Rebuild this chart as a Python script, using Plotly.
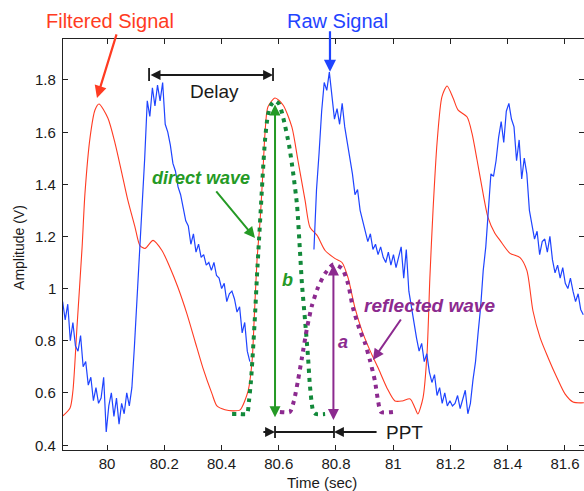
import numpy as np
import plotly.graph_objects as go

# ---------------- data ----------------
# Filtered (low-pass) signal, time in seconds / amplitude in volts
FILT_T = [79.846, 79.871, 79.881, 79.895, 79.913, 79.923, 79.941, 79.958, 79.972, 80.003,
          80.028, 80.052, 80.073, 80.098, 80.115, 80.133, 80.161, 80.192, 80.220, 80.248,
          80.279, 80.307, 80.335, 80.367, 80.384, 80.412, 80.440, 80.465, 80.493, 80.507,
          80.514, 80.524, 80.535, 80.545, 80.552, 80.562, 80.587, 80.615, 80.646, 80.667,
          80.692, 80.709, 80.734, 80.762, 80.797, 80.821, 80.842, 80.866, 80.891, 80.919,
          80.947, 80.978, 81.006, 81.031, 81.059, 81.076, 81.086, 81.104, 81.118, 81.128,
          81.139, 81.153, 81.170, 81.188, 81.209, 81.226, 81.258, 81.275, 81.293, 81.310,
          81.331, 81.355, 81.373, 81.408, 81.443, 81.467, 81.488, 81.513, 81.541, 81.572,
          81.600, 81.628, 81.666]
FILT_V = [0.512, 0.542, 0.608, 0.850, 1.158, 1.365, 1.581, 1.685, 1.708, 1.654,
          1.558, 1.442, 1.338, 1.235, 1.165, 1.154, 1.185, 1.146, 1.081, 1.004,
          0.904, 0.800, 0.696, 0.596, 0.550, 0.535, 0.531, 0.535, 0.608, 0.723,
          0.877, 1.108, 1.262, 1.454, 1.596, 1.696, 1.731, 1.704, 1.619, 1.492,
          1.338, 1.235, 1.204, 1.146, 1.115, 1.100, 1.042, 0.927, 0.838, 0.762,
          0.696, 0.619, 0.569, 0.569, 0.577, 0.542, 0.519, 0.581, 0.750, 1.042,
          1.300, 1.558, 1.735, 1.777, 1.731, 1.685, 1.658, 1.596, 1.492, 1.388,
          1.273, 1.212, 1.185, 1.135, 1.119, 1.069, 0.915, 0.812, 0.735, 0.658,
          0.596, 0.565, 0.562]

# Raw signal, two recorded segments with a fixed sampling interval
RAW_DT = 0.00896
RAW_T0_A = 79.845
RAW_V_A = [0.95, 0.88, 0.94, 0.80, 0.87, 0.78, 0.76, 0.82, 0.70, 0.72,
           0.63, 0.66, 0.57, 0.62, 0.56, 0.58, 0.66, 0.45, 0.55, 0.60,
           0.51, 0.58, 0.48, 0.56, 0.52, 0.60, 0.55, 0.62, 0.78, 0.96,
           1.12, 1.30, 1.50, 1.72, 1.66, 1.77, 1.70, 1.78, 1.72, 1.79,
           1.63, 1.60, 1.55, 1.48, 1.45, 1.39, 1.36, 1.31, 1.26, 1.24,
           1.17, 1.21, 1.14, 1.17, 1.12, 1.13, 1.09, 1.10, 1.07, 1.10,
           1.05, 1.04, 1.00, 1.02, 0.95, 0.98, 0.99, 0.96, 0.91, 0.93,
           0.83, 0.87, 0.76, 0.72]
RAW_T0_B = 80.723
RAW_V_B = [1.15, 1.38, 1.52, 1.68, 1.79, 1.76, 1.83, 1.74, 1.65, 1.69,
           1.63, 1.71, 1.62, 1.56, 1.50, 1.44, 1.36, 1.38, 1.30, 1.26,
           1.21, 1.18, 1.21, 1.15, 1.17, 1.13, 1.16, 1.12, 1.10, 1.14,
           1.09, 1.13, 1.08, 1.12, 1.16, 1.04, 1.15, 0.99, 0.93, 0.86,
           0.81, 0.76, 0.79, 0.72, 0.75, 0.68, 0.64, 0.67, 0.59, 0.62,
           0.56, 0.60, 0.55, 0.57, 0.55, 0.56, 0.59, 0.54, 0.58, 0.61,
           0.52, 0.56, 0.65, 0.72, 0.83, 0.93, 1.07, 1.16, 1.30, 1.44,
           1.43, 1.49, 1.58, 1.64, 1.56, 1.68, 1.71, 1.65, 1.62, 1.49,
           1.57, 1.42, 1.50, 1.44, 1.30, 1.25, 1.19, 1.22, 1.13, 1.18,
           1.19, 1.14, 1.20, 1.11, 1.06, 1.09, 1.04, 1.08, 1.02, 1.00,
           1.04, 0.99, 0.95, 0.98, 0.92, 0.90]

# Decomposed pulse: direct wave and reflected wave
DIRECT_T = [80.437, 80.465, 80.489, 80.496, 80.503, 80.510, 80.517, 80.524, 80.531, 80.538,
            80.545, 80.552, 80.562, 80.573, 80.587, 80.601, 80.615, 80.636, 80.650, 80.664,
            80.674, 80.681, 80.692, 80.702, 80.709, 80.720, 80.730, 80.762]
DIRECT_V = [0.519, 0.519, 0.519, 0.569, 0.646, 0.762, 0.896, 1.050, 1.185, 1.319,
            1.454, 1.569, 1.665, 1.704, 1.719, 1.708, 1.658, 1.550, 1.446, 1.319,
            1.146, 1.019, 0.877, 0.742, 0.627, 0.531, 0.519, 0.519]
REFL_T = [80.604, 80.639, 80.653, 80.667, 80.681, 80.699, 80.716, 80.737, 80.762, 80.790,
          80.821, 80.842, 80.859, 80.884, 80.901, 80.919, 80.936, 80.947, 80.957, 80.999]
REFL_V = [0.527, 0.527, 0.569, 0.646, 0.735, 0.850, 0.935, 1.004, 1.058, 1.092,
          1.077, 1.019, 0.927, 0.838, 0.792, 0.723, 0.646, 0.569, 0.527, 0.527]

X_TICKS = [80.0, 80.2, 80.4, 80.6, 80.8, 81.0, 81.2, 81.4, 81.6]
X_LABELS = ["80", "80.2", "80.4", "80.6", "80.8", "81", "81.2", "81.4", "81.6"]
Y_TICKS = [0.4, 0.6, 0.8, 1.0, 1.2, 1.4, 1.6, 1.8]
Y_LABELS = ["0.4", "0.6", "0.8", "1", "1.2", "1.4", "1.6", "1.8"]

# ---------------- styling ----------------
FONT = "Liberation Sans, Arial, sans-serif"
RED = "#ff3b22"
BLUE = "#1f44ff"
GREEN_DOT = "#12893a"
GREEN = "#259a25"
PURPLE = "#8c2a8f"
BLACK = "#1a1a1a"
TICK_SIZE = 15

raw_t = np.concatenate([
    RAW_T0_A + RAW_DT * np.arange(len(RAW_V_A)),
    [np.nan],
    RAW_T0_B + RAW_DT * np.arange(len(RAW_V_B)),
])
raw_v = np.concatenate([RAW_V_A, [np.nan], RAW_V_B])

fig = go.Figure()
fig.add_trace(go.Scatter(x=FILT_T, y=FILT_V, mode="lines",
                         line=dict(color=RED, width=1.1, shape="spline", smoothing=0.7),
                         hoverinfo="skip"))
fig.add_trace(go.Scatter(x=raw_t, y=raw_v, mode="lines", connectgaps=False,
                         line=dict(color=BLUE, width=1.2), hoverinfo="skip"))
fig.add_trace(go.Scatter(x=DIRECT_T, y=DIRECT_V, mode="lines",
                         line=dict(color=GREEN_DOT, width=4, dash="4px,5px",
                                   shape="spline", smoothing=0.6),
                         hoverinfo="skip"))
fig.add_trace(go.Scatter(x=REFL_T, y=REFL_V, mode="lines",
                         line=dict(color=PURPLE, width=4, dash="4px,5px",
                                   shape="spline", smoothing=0.6),
                         hoverinfo="skip"))

ann = []


def text(x, y, s, color, size, bold=False, italic=False, ref="x"):
    if bold:
        s = "<b>" + s + "</b>"
    if italic:
        s = "<i>" + s + "</i>"
    yr = "y" if ref == "x" else "paper"
    ann.append(dict(x=x, y=y, xref=ref, yref=yr, text=s, showarrow=False,
                    font=dict(family=FONT, size=size, color=color),
                    xanchor="center", yanchor="middle"))


def arrow(x, y, ax, ay, color, width=2, head=2, size=1.0, side="end", data_tail=False):
    d = dict(x=x, y=y, ax=ax, ay=ay, xref="x", yref="y", text="", showarrow=True,
             arrowcolor=color, arrowwidth=width, arrowhead=head, arrowsize=size,
             arrowside=side, startarrowhead=head, startarrowsize=size,
             standoff=0, startstandoff=0)
    if data_tail:
        d.update(axref="x", ayref="y")
    ann.append(d)


# series labels
text(0.090, 1.044, "Filtered Signal", RED, 20, ref="paper")
text(0.527, 1.044, "Raw Signal", BLUE, 20, ref="paper")
arrow(79.965, 1.731, 20, -65, RED, width=2.2, head=2, size=1.1)
arrow(80.779, 1.831, 0, -42, BLUE, width=2.2, head=2, size=1.1)

# Delay
text(80.376, 1.754, "Delay", BLACK, 19)
arrow(80.580, 1.819, 80.147, 1.819, BLACK, width=1.8, head=2, size=1.1,
      side="end+start", data_tail=True)

# direct wave
text(80.328, 1.424, "direct wave", GREEN, 18, bold=True, italic=True)
arrow(80.517, 1.194, -40, -48, GREEN, width=2, head=2, size=1.1)
arrow(80.587, 0.507, 80.587, 1.712, GREEN, width=2, head=2, size=1.1,
      side="end+start", data_tail=True)
text(80.629, 1.033, "b", GREEN, 18, bold=True, italic=True)

# reflected wave
text(81.128, 0.937, "reflected wave", PURPLE, 19, bold=True, italic=True)
arrow(80.929, 0.726, 29, -42, PURPLE, width=2, head=2, size=1.1)
arrow(80.791, 0.496, 80.791, 1.098, PURPLE, width=2, head=2, size=1.1,
      side="end+start", data_tail=True)
text(80.825, 0.795, "a", PURPLE, 18, bold=True, italic=True)

# PPT
text(81.038, 0.450, "PPT", BLACK, 19)
arrow(80.587, 0.450, 80.541, 0.450, BLACK, width=1.8, head=2, size=1.1, data_tail=True)
arrow(80.793, 0.450, 80.947, 0.450, BLACK, width=1.8, head=2, size=1.1, data_tail=True)

# y tick labels, right-aligned just left of the axis line
for v, lab in zip(Y_TICKS, Y_LABELS):
    ann.append(dict(x=-0.0096, y=v, xref="paper", yref="y", text=lab, showarrow=False,
                    xanchor="right", yanchor="middle",
                    font=dict(family=FONT, size=TICK_SIZE, color=BLACK)))

# axis titles
ann.append(dict(x=-0.0845, y=0.494, xref="paper", yref="paper", text="Amplitude (V)",
                showarrow=False, textangle=-90, xanchor="center", yanchor="middle",
                font=dict(family=FONT, size=14, color=BLACK)))
ann.append(dict(x=0.497, y=-0.078, xref="paper", yref="paper", text="Time (sec)",
                showarrow=False, xanchor="center", yanchor="middle",
                font=dict(family=FONT, size=15, color=BLACK)))

shapes = []
for xv, y0, y1 in [(80.147, 1.796, 1.846), (80.580, 1.796, 1.846),
                   (80.587, 0.427, 0.473), (80.793, 0.427, 0.473)]:
    shapes.append(dict(type="line", xref="x", yref="y", x0=xv, x1=xv, y0=y0, y1=y1,
                       line=dict(color=BLACK, width=1.8)))
shapes.append(dict(type="line", xref="x", yref="y", x0=80.587, x1=80.793,
                   y0=0.450, y1=0.450, line=dict(color=BLACK, width=1.8)))

fig.update_layout(
    width=584, height=491,
    margin=dict(l=63, r=0, t=39, b=41),
    paper_bgcolor="white", plot_bgcolor="white",
    showlegend=False,
    font=dict(family=FONT, size=14, color=BLACK),
    xaxis=dict(range=[79.8463, 81.6664], tickvals=X_TICKS, ticktext=X_LABELS,
               ticks="inside", ticklen=5, tickwidth=1, tickcolor="#222",
               showline=True, linecolor="#222", linewidth=1, mirror="ticks",
               showgrid=False, zeroline=False,
               tickfont=dict(family=FONT, size=TICK_SIZE, color=BLACK)),
    yaxis=dict(range=[0.381, 1.957], tickvals=Y_TICKS, showticklabels=False,
               ticks="inside", ticklen=5, tickwidth=1, tickcolor="#222",
               showline=True, linecolor="#222", linewidth=1, mirror="ticks",
               showgrid=False, zeroline=False),
    annotations=ann,
    shapes=shapes,
)

fig.write_html("out.html")
